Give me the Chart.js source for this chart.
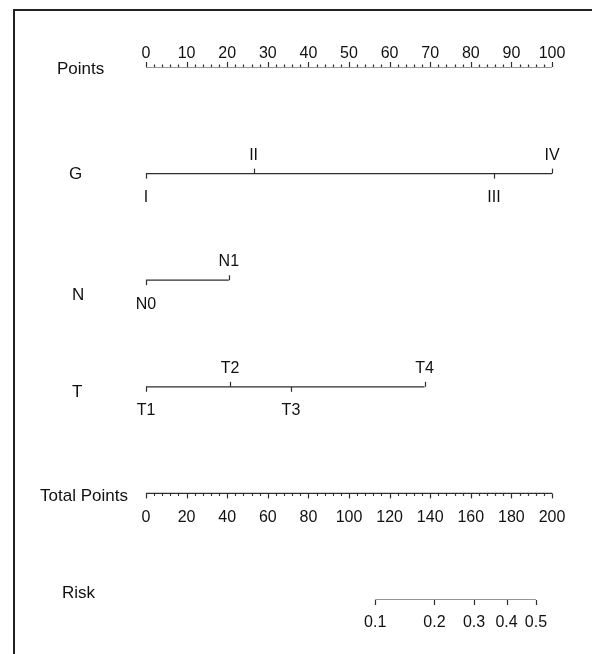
<!DOCTYPE html>
<html>
<head>
<meta charset="utf-8">
<script src="https://cdn.jsdelivr.net/npm/chart.js@4.4.1/dist/chart.umd.min.js"></script>
<style>
  html, body { margin: 0; padding: 0; background: #ffffff; }
  #wrap { position: relative; width: 592px; height: 654px; }
</style>
</head>
<body>
<div id="wrap"><canvas id="nomo" width="592" height="654"></canvas></div>
<script>
// ---- Nomogram data ----
const rowNames = ['Points', 'G', 'N', 'T', 'Total Points', 'Risk'];

const pointsTicks = [0, 10, 20, 30, 40, 50, 60, 70, 80, 90, 100];
const pointsMinorStep = 2;

const gLevels = ['I', 'II', 'III', 'IV'];
const gPoints = [0, 26.5, 85.7, 100];

const nLevels = ['N0', 'N1'];
const nPoints = [0, 20.4];

const tLevels = ['T1', 'T2', 'T3', 'T4'];
const tPoints = [0, 20.7, 35.7, 68.6];

const totalTicks = [0, 20, 40, 60, 80, 100, 120, 140, 160, 180, 200];
const totalMinorStep = 4;

const riskLabels = ['0.1', '0.2', '0.3', '0.4', '0.5'];
const riskTotals = [112.9, 142.1, 161.6, 177.6, 192.1];

// ---- Layout / style ----
const LINE = '#2e2e2e';
const TEXT = '#111111';
const TICK_FONT = '16px "Liberation Sans", Arial, sans-serif';
const NAME_FONT = '17px "Liberation Sans", Arial, sans-serif';

// row name placement: left x and vertical centre offset from the row's line
const nameLayout = [
  { x: 57, dy: 2 },
  { x: 69, dy: 1 },
  { x: 72, dy: 15 },
  { x: 72, dy: 6 },
  { x: 40, dy: 3 },
  { x: 62, dy: -7 }
];

function seg(xs, row) {
  return [{ x: Math.min(...xs), y: row }, { x: Math.max(...xs), y: row }];
}

const lineStyle = { borderColor: LINE, borderWidth: 1.2, pointRadius: 0, fill: false, tension: 0 };

const datasets = [
  { label: 'Points', data: seg(pointsTicks, 0), xAxisID: 'x', ...lineStyle },
  { label: 'G', data: seg(gPoints, 1), xAxisID: 'x', ...lineStyle },
  { label: 'N', data: seg(nPoints, 2), xAxisID: 'x', ...lineStyle },
  { label: 'T', data: seg(tPoints, 3), xAxisID: 'x', ...lineStyle },
  { label: 'Total Points', data: seg(totalTicks, 4), xAxisID: 'xt', ...lineStyle },
  { label: 'Risk', data: seg(riskTotals, 5), xAxisID: 'xt', ...lineStyle }
];

// Tick marks, tick labels, row names and the frame
const nomogramPlugin = {
  id: 'nomogram',
  afterDatasetsDraw(chart) {
    const ctx = chart.ctx;
    const xs = chart.scales.x, xt = chart.scales.xt, ys = chart.scales.y;
    const rowY = r => ys.getPixelForValue(r);

    ctx.save();
    ctx.strokeStyle = LINE;
    ctx.lineWidth = 1.2;
    ctx.fillStyle = TEXT;
    ctx.textAlign = 'center';

    function tick(px, py, len) {
      const x = Math.round(px) + 0.5;
      ctx.beginPath();
      ctx.moveTo(x, py);
      ctx.lineTo(x, py + len);
      ctx.stroke();
    }

    // Points axis: ticks upward, labels above
    let py = rowY(0);
    for (let v = 0; v <= 100; v += pointsMinorStep) {
      const major = v % 10 === 0;
      tick(xs.getPixelForValue(v), py, major ? -5 : -2.5);
    }
    ctx.font = TICK_FONT;
    ctx.textBaseline = 'alphabetic';
    pointsTicks.forEach(v => ctx.fillText(String(v), xs.getPixelForValue(v), py - 9));

    // Categorical rows: labels alternate below / above the line
    function levelRow(levels, pts, row) {
      const y = rowY(row);
      levels.forEach((lab, i) => {
        const px = xs.getPixelForValue(pts[i]);
        const up = i % 2 === 1;
        tick(px, y, up ? -5 : 5);
        if (up) {
          ctx.textBaseline = 'alphabetic';
          ctx.fillText(lab, px, y - 14);
        } else {
          ctx.textBaseline = 'top';
          ctx.fillText(lab, px, y + 16);
        }
      });
    }
    levelRow(gLevels, gPoints, 1);
    levelRow(nLevels, nPoints, 2);
    levelRow(tLevels, tPoints, 3);

    // Total points axis: ticks downward, labels below
    py = rowY(4);
    for (let v = 0; v <= 200; v += totalMinorStep) {
      const major = v % 20 === 0;
      tick(xt.getPixelForValue(v), py, major ? 5 : 2.5);
    }
    ctx.textBaseline = 'top';
    totalTicks.forEach(v => ctx.fillText(String(v), xt.getPixelForValue(v), py + 16));

    // Risk axis
    py = rowY(5);
    riskTotals.forEach((v, i) => {
      const px = xt.getPixelForValue(v);
      tick(px, py, 5);
      ctx.fillText(riskLabels[i], px, py + 15);
    });

    // Row names
    ctx.font = NAME_FONT;
    ctx.textAlign = 'left';
    ctx.textBaseline = 'middle';
    rowNames.forEach((name, r) => {
      ctx.fillText(name, nameLayout[r].x, rowY(r) + nameLayout[r].dy);
    });

    // Frame (top and left edges)
    ctx.strokeStyle = '#222222';
    ctx.lineWidth = 2;
    ctx.beginPath();
    ctx.moveTo(14, 654);
    ctx.lineTo(14, 10);
    ctx.lineTo(592, 10);
    ctx.stroke();
    ctx.restore();
  }
};

new Chart(document.getElementById('nomo'), {
  type: 'line',
  data: { datasets },
  options: {
    responsive: false,
    animation: false,
    devicePixelRatio: 1,
    layout: { padding: { left: 146, right: 40, top: 67, bottom: 54 } },
    plugins: { legend: { display: false }, tooltip: { enabled: false } },
    scales: {
      x: { type: 'linear', min: 0, max: 100, display: false },
      xt: { type: 'linear', min: 0, max: 200, display: false },
      y: { type: 'linear', min: 0, max: 5, reverse: true, display: false }
    }
  },
  plugins: [nomogramPlugin]
});
</script>
</body>
</html>
